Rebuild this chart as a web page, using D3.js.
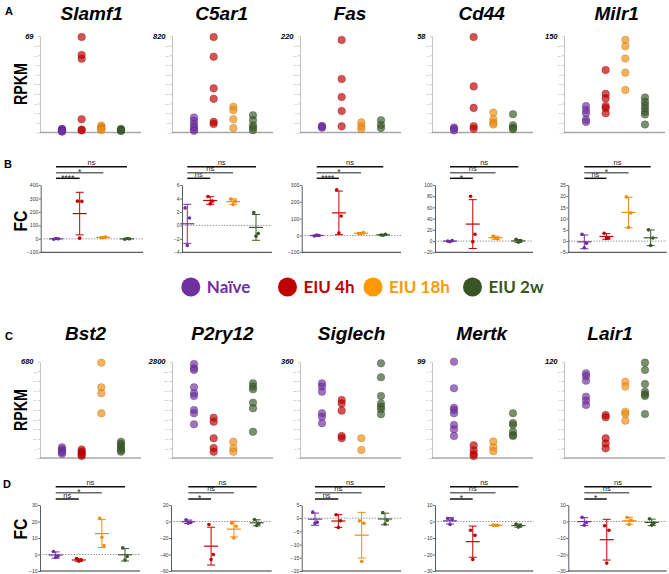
<!DOCTYPE html>
<html>
<head>
<meta charset="utf-8">
<script src="https://cdn.jsdelivr.net/npm/d3@7"></script>
<style>
  body { margin: 0; background: #fff; }
  svg { display: block; font-family: "Liberation Sans", Arial, sans-serif; }
</style>
</head>
<body>
<svg id="fig" width="669" height="574"></svg>
<script>
// ---- data ----
const groups = ["Naïve", "EIU 4h", "EIU 18h", "EIU 2w"];
const genesTop = ["Slamf1", "C5ar1", "Fas", "Cd44", "Milr1"];
const genesBottom = ["Bst2", "P2ry12", "Siglech", "Mertk", "Lair1"];

// RPKM axis maxima (label at top of each axis)
const rpkmMaxTop = [69, 820, 220, 58, 150];
const rpkmMaxBottom = [680, 2800, 360, 99, 120];

// RPKM per sample: [naive, 4h, 18h, 2w]
const rpkmSlamf1 = [[2.6, 2.2, 1.8, 1.4, 1.0, 0.6], [68.3, 55.4, 52.7, 9.5, 2.1, 1.5], [5.0, 4.0, 3.2, 2.4, 1.8], [2.6, 2.0, 1.5, 1.0]];
const rpkmC5ar1 = [[128, 99, 71, 48, 26, 14], [811, 644, 375, 286, 90, 73], [218, 190, 113, 37], [147, 105, 60, 40, 20]];
const rpkmFas = [[15, 13, 11], [211, 122, 81, 49, 14], [23, 14, 8], [28, 17, 10]];
const rpkmCd44 = [[3, 2.2, 1.2], [57.4, 27.7, 14.8, 3.8, 2.2], [12, 8, 5.9, 4.8], [11, 4.4, 2.8, 2]];
const rpkmMilr1 = [[41, 35, 30, 20, 16.5], [97, 60, 53, 41, 38, 30], [144, 134, 115, 93, 66], [54.5, 47.7, 42.5, 37.4, 32, 28, 12.5]];
const rpkmBst2 = [[75, 62, 50, 40, 30], [60, 45, 35, 25, 15], [673, 499, 457, 316], [115, 100, 85, 70, 55, 45]];
const rpkmP2ry12 = [[2733, 2608, 2559, 2056, 1881, 1803, 1396, 1300, 980], [1172, 1055, 573, 290, 180], [474, 282, 183], [2172, 2074, 1998, 1608, 1445, 765]];
const rpkmSiglech = [[279, 267, 248, 167, 154, 130], [217, 204, 177, 82, 74], [74, 30], [354, 302, 232, 204, 192, 182, 164]];
const rpkmMertk = [[99, 71.7, 51.7, 49.3, 46, 34, 29.5, 22.6], [13, 8, 4, 2], [17, 11, 7], [46, 36, 34, 27, 23.6, 22.6]];
const rpkmLair1 = [[105.5, 102, 96.3, 76.4, 71.4, 66], [53.6, 50.7, 24.5, 18, 12], [95, 89, 57.7, 54.8, 46.5], [118.8, 109.7, 92.2, 82.6, 79.4, 77.3, 54.8]];

// fold change per replicate: [naive, 4h, 18h, 2w]
const fcSlamf1 = [[-3, 0, 3], [280, 278, 5], [8, 14, 10], [-3, 0, 2]];
const fcC5ar1 = [[2.6, 1.1, -3.0], [4.3, 3.6, 3.2], [3.9, 3.6, 3.1], [1.9, -1.2, -1.6]];
const fcFas = [[-3, 0, 2], [272, 116, 15], [10, 18, 12], [3, 7, 1]];
const fcCd44 = [[0, 1, -1], [80, 12, -1], [9, 4, 5], [3, 0, -2]];
const fcMilr1 = [[3, -1, -3], [3.5, 1.5, 1.2], [19.7, 12.5, 6.1], [5, 1.4, -2]];
const fcBst2 = [[1.8, -1.0, -1.8], [-2.5, -3.5, -4], [22, 5.5, 10.5], [4, -1.2, -3.3]];
const fcP2ry12 = [[2, -1, -2], [-3.6, -40, -46], [-2, -5.7, -20], [2.4, -2.4, -4.8]];
const fcSiglech = [[2.3, -1.5, -1.9], [1.3, -1.0, -3.5], [-1.0, -1.9, -16.4], [2.1, -0.8, -2.2]];
const fcMertk = [[1.8, 1.2, -1.8], [-5.3, -8.4, -23], [-2.2, -2.3, -2.4], [-1.5, -2.5, -3.4]];
const fcLair1 = [[2.5, -0.5, -2.2], [-2.6, -5.3, -25.2], [2.4, 0.8, -1.8], [1.6, -1, -2.2]];

// FC axis ticks
const fcTicksTop = [[-100, 0, 100, 200, 300, 400], [-4, -2, 0, 2, 4, 6], [-100, 0, 100, 200, 300], [-20, 0, 20, 40, 60, 80, 100], [-5, 0, 5, 10, 15, 20, 25]];
const fcTicksBottom = [[-10, 0, 10, 20, 30], [-60, -40, -20, 0, 20], [-20, -15, -10, -5, 0, 5], [-30, -20, -10, 0, 10], [-30, -20, -10, 0, 10]];

// significance vs naive: [4h, 18h, 2w]
const sigTop = [["****", "*", "ns"], ["ns", "ns", "ns"], ["****", "*", "ns"], ["*", "ns", "ns"], ["ns", "*", "ns"]];
const sigBottom = [["ns", "*", "ns"], ["*", "ns", "ns"], ["ns", "ns", "ns"], ["*", "ns", "ns"], ["*", "ns", "ns"]];

// ---- layout ----
const COLORS = ["#7030a0", "#c00000", "#f08c10", "#3b5a2a"];
const LEGEND_COLORS = ["#7030a0", "#c00000", "#ff9900", "#375623"];
const RPKM_AXIS_X = [40, 172, 300, 432, 564];
const ROW_A = { top: 36, bottom: 132.5, titleY: 19.5, titleX: [91.7, 221.7, 350, 481.7, 616.7], labelY: 84 };
const ROW_C = { top: 361.7, bottom: 458, titleY: 339.5, titleX: [85.5, 222.5, 351.5, 481.7, 610], labelY: 410 };
const ROW_B = {
  top: 185, bottom: 252.3, sigY: [178.3, 172.7, 166.7], labelY: 221,
  axisX: [40.7, 182, 301.7, 435, 568.3], endX: [143, 272, 401, 533, 666.7],
  colStart: [56, 187.3, 316.7, 450, 584.3], colEnd: [127, 256, 383.3, 518.3, 650.7]
};
const ROW_D = {
  top: 505, bottom: 571, sigY: [499, 492.7, 486.7], labelY: 529,
  axisX: [40, 171, 301.7, 435, 568.3], endX: [140, 271.7, 401, 533.3, 666.7],
  colStart: [55.7, 188.3, 315, 450, 584.3], colEnd: [125, 256.7, 385, 518.3, 651.7]
};
const JITTER = [-2.2, 2.2, 0];
const LEGEND_X = [190.8, 287.5, 373, 472.5];

const svg = d3.select("#fig");

function rpkmPanel(row, i, gene, max, values) {
  const ax = RPKM_AXIS_X[i];
  const y = d3.scaleLinear().domain([0, max]).range([row.bottom, row.top]);
  const x = d3.scalePoint().domain(groups).range([ax + 22, ax + 81]);
  const g = svg.append("g");

  g.append("text")
    .attr("x", row.titleX[i]).attr("y", row.titleY)
    .attr("text-anchor", "middle")
    .attr("font-size", 19).attr("font-weight", "bold").attr("font-style", "italic")
    .text(gene);

  // minor ticks, the top one is labelled separately
  const yAxis = d3.axisLeft(y)
    .tickValues(d3.range(11).map((k) => (max * k) / 10))
    .tickSizeInner(2).tickSizeOuter(0)
    .tickFormat((d, k) => (k === 10 ? "" : Math.round(d)));
  g.append("g").attr("transform", `translate(${ax},0)`).call(yAxis)
    .call((s) => {
      s.select(".domain").attr("stroke", "#c4c4c4");
      s.selectAll(".tick line").attr("stroke", "#aaa").attr("stroke-width", 0.6);
      s.selectAll(".tick text").attr("font-size", 2.2).attr("fill", "#999").attr("x", -3);
    });

  g.append("line")
    .attr("x1", ax).attr("x2", ax + 101)
    .attr("y1", y(0)).attr("y2", y(0))
    .attr("stroke", "#a8a8a8").attr("stroke-width", 1.3);

  g.append("text")
    .attr("x", ax - 6.5).attr("y", y(max) + 2.5)
    .attr("text-anchor", "end")
    .attr("font-size", 7.5).attr("font-weight", "bold").attr("font-style", "italic")
    .text(max);

  values.forEach((vals, gi) => {
    const c = COLORS[gi];
    g.selectAll(null).data(vals).join("circle")
      .attr("cx", x(groups[gi])).attr("cy", (d) => y(d)).attr("r", 3.8)
      .attr("fill", c).attr("fill-opacity", 0.68)
      .attr("stroke", d3.color(c).darker(0.7)).attr("stroke-opacity", 0.55).attr("stroke-width", 0.6);
  });
}

function fcPanel(row, i, ticks, values, sig) {
  const ax = row.axisX[i];
  const y = d3.scaleLinear().domain(d3.extent(ticks)).range([row.bottom, row.top]);
  const x = d3.scalePoint().domain(groups).range([row.colStart[i], row.colEnd[i]]);
  const g = svg.append("g");

  // significance bars
  sig.forEach((label, k) => {
    const ly = row.sigY[k];
    g.append("line")
      .attr("x1", x(groups[0])).attr("x2", x(groups[k + 1]))
      .attr("y1", ly).attr("y2", ly)
      .attr("stroke", k === 1 ? "#6a6a6a" : "#111").attr("stroke-width", 1.5);
    const star = label !== "ns";
    g.append("text")
      .attr("x", (x(groups[0]) + x(groups[k + 1])) / 2)
      .attr("y", star ? ly + 2.4 : ly - 1.3)
      .attr("text-anchor", "middle")
      .attr("font-size", star ? 8.5 : 7.5).attr("fill", "#222")
      .text(label);
  });

  const yAxis = d3.axisLeft(y).tickValues(ticks).tickSizeInner(2).tickSizeOuter(0);
  g.append("g").attr("transform", `translate(${ax},0)`).call(yAxis)
    .call((s) => {
      s.select(".domain").attr("stroke", "#333").attr("stroke-width", 0.8);
      s.selectAll(".tick line").attr("stroke", "#333").attr("stroke-width", 0.7);
      s.selectAll(".tick text").attr("font-size", 5).attr("fill", "#333").attr("x", -2.5);
    });

  g.append("line")
    .attr("x1", ax).attr("x2", row.endX[i])
    .attr("y1", row.bottom).attr("y2", row.bottom)
    .attr("stroke", "#333").attr("stroke-width", 1);

  g.append("line")
    .attr("x1", ax).attr("x2", row.endX[i])
    .attr("y1", y(0)).attr("y2", y(0))
    .attr("stroke", "#777").attr("stroke-width", 0.8).attr("stroke-dasharray", "1.4,1.4");

  values.forEach((vals, gi) => {
    const c = COLORS[gi];
    const cx = x(groups[gi]);
    const m = d3.mean(vals), sd = d3.deviation(vals);
    const eg = g.append("g").attr("stroke", c).attr("stroke-width", 1);
    eg.append("line").attr("x1", cx).attr("x2", cx).attr("y1", y(m + sd)).attr("y2", y(m - sd));
    [m + sd, m - sd].forEach((v) => {
      eg.append("line").attr("x1", cx - 4).attr("x2", cx + 4).attr("y1", y(v)).attr("y2", y(v));
    });
    eg.append("line").attr("x1", cx - 7).attr("x2", cx + 7).attr("y1", y(m)).attr("y2", y(m)).attr("stroke-width", 1.2);
    g.selectAll(null).data(vals).join("circle")
      .attr("cx", (d, k) => cx + JITTER[k]).attr("cy", (d) => y(d)).attr("r", 1.8)
      .attr("fill", c);
  });
}

function rowLabel(text, cy, len) {
  svg.append("text")
    .attr("transform", `translate(27,${cy}) rotate(-90)`)
    .attr("text-anchor", "middle")
    .attr("font-size", 18).attr("font-weight", "bold")
    .attr("textLength", len).attr("lengthAdjust", "spacingAndGlyphs")
    .text(text);
}

function panelLetter(text, x, y) {
  svg.append("text").attr("x", x).attr("y", y)
    .attr("font-size", 11).attr("font-weight", "bold").text(text);
}

// ---- draw ----
const rpkmTop = [rpkmSlamf1, rpkmC5ar1, rpkmFas, rpkmCd44, rpkmMilr1];
const rpkmBottom = [rpkmBst2, rpkmP2ry12, rpkmSiglech, rpkmMertk, rpkmLair1];
const fcTop = [fcSlamf1, fcC5ar1, fcFas, fcCd44, fcMilr1];
const fcBottom = [fcBst2, fcP2ry12, fcSiglech, fcMertk, fcLair1];

genesTop.forEach((gene, i) => rpkmPanel(ROW_A, i, gene, rpkmMaxTop[i], rpkmTop[i]));
genesBottom.forEach((gene, i) => rpkmPanel(ROW_C, i, gene, rpkmMaxBottom[i], rpkmBottom[i]));
genesTop.forEach((gene, i) => fcPanel(ROW_B, i, fcTicksTop[i], fcTop[i], sigTop[i]));
genesBottom.forEach((gene, i) => fcPanel(ROW_D, i, fcTicksBottom[i], fcBottom[i], sigBottom[i]));

rowLabel("RPKM", ROW_A.labelY, 42);
rowLabel("RPKM", ROW_C.labelY, 42);
rowLabel("FC", ROW_B.labelY, 21);
rowLabel("FC", ROW_D.labelY, 21);

panelLetter("A", 5, 15);
panelLetter("B", 4, 168);
panelLetter("C", 5, 340);
panelLetter("D", 3, 488);

// legend
const legend = svg.append("g");
groups.forEach((name, k) => {
  legend.append("circle")
    .attr("cx", LEGEND_X[k]).attr("cy", 287).attr("r", 9.5)
    .attr("fill", LEGEND_COLORS[k]);
  legend.append("text")
    .attr("x", LEGEND_X[k] + 16).attr("y", 293)
    .attr("font-family", "Lato, 'Open Sans', sans-serif")
    .attr("font-size", 17).attr("font-weight", "bold")
    .attr("fill", LEGEND_COLORS[k])
    .text(name);
});
</script>
</body>
</html>
